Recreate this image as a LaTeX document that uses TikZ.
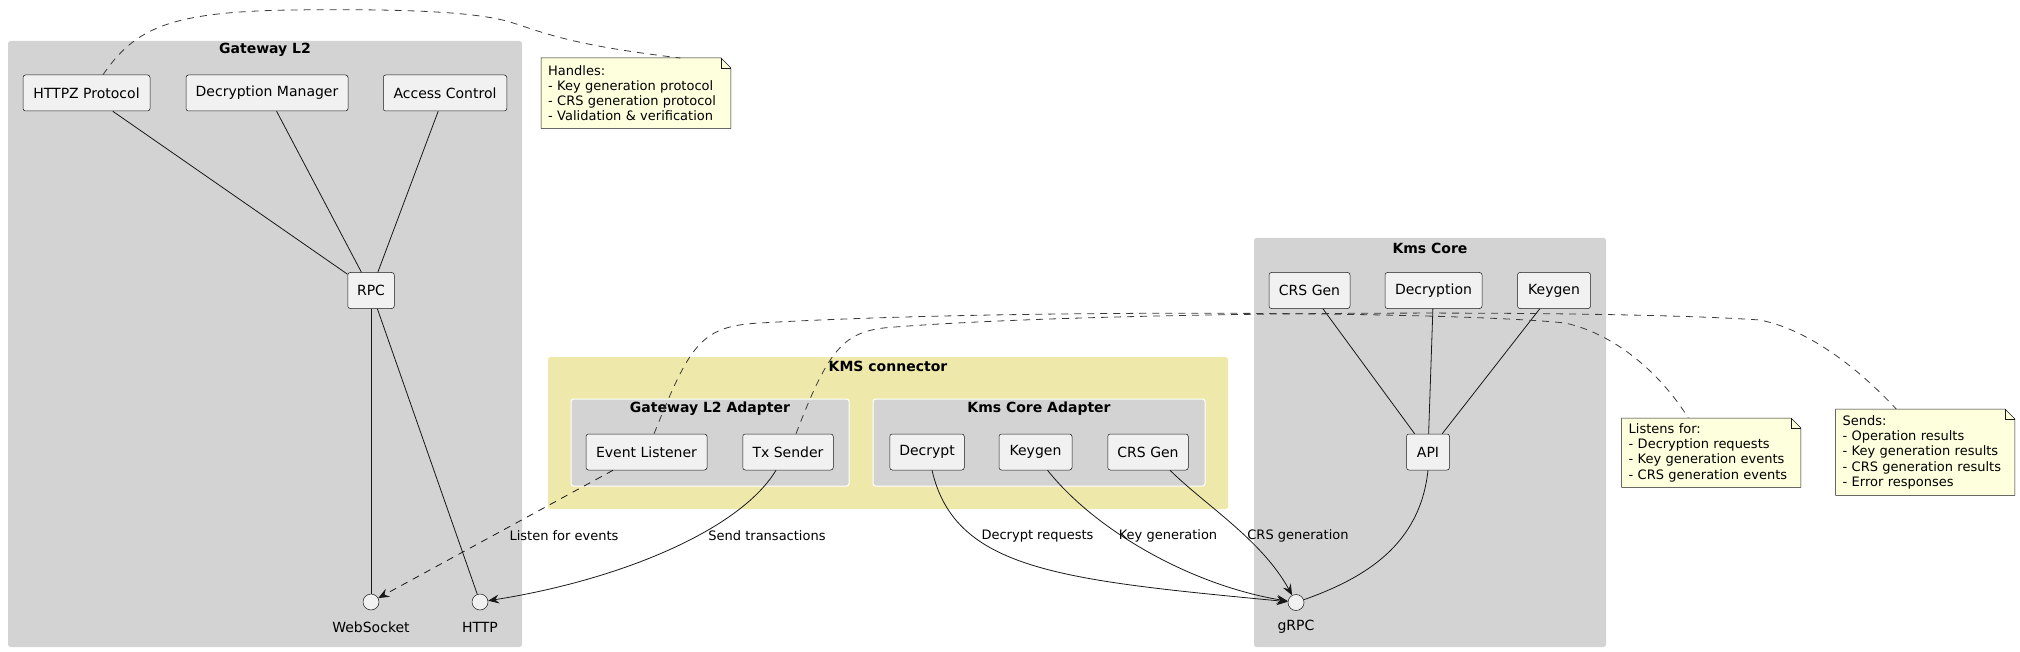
\documentclass[tikz,border=0pt]{standalone}
\usepackage{fontspec}
\setmainfont{DejaVu Sans}
\usetikzlibrary{arrows.meta,backgrounds}
\definecolor{clgray}{HTML}{D3D3D3}
\definecolor{clyellow}{HTML}{EEE8AA}
\definecolor{compf}{HTML}{F1F1F1}
\definecolor{edgec}{HTML}{181818}
\definecolor{notef}{HTML}{FEFFDD}
\newcommand\notefold[1]{%
  \begin{pgfonlayer}{background}
  \filldraw[notebd] (#1.north west) -- ([xshift=-10pt]#1.north east) -- ([yshift=-10pt]#1.north east) -- (#1.south east) -- (#1.south west) -- cycle;
  \draw[notebd, fill=none] ([xshift=-10pt]#1.north east) |- ([yshift=-10pt]#1.north east);
  \end{pgfonlayer}}
\begin{document}
\begin{tikzpicture}[x=1pt,y=-1pt,
  cluster/.style={fill=clgray, rounded corners=2.5pt},
  subcluster/.style={fill=clgray, draw=white, line width=1pt, rounded corners=2.5pt},
  kmsbox/.style={fill=clyellow, rounded corners=2.5pt},
  ctitle/.style={font=\bfseries\fontsize{14}{16}\selectfont, inner sep=0pt},
  comp/.style={draw=edgec, line width=0.5pt, fill=compf, rounded corners=2.5pt, minimum height=36pt, inner sep=0pt, font=\fontsize{14}{16}\selectfont},
  iface/.style={circle, draw=edgec, line width=0.5pt, fill=compf, minimum size=16pt, inner sep=0pt},
  ilabel/.style={font=\fontsize{14}{16}\selectfont, inner sep=0pt},
  elabel/.style={font=\fontsize{13}{15}\selectfont, inner sep=0pt},
  notebd/.style={draw=edgec, line width=0.5pt, fill=notef},
  note/.style={font=\fontsize{13}{15.3}\selectfont, align=left, inner xsep=7pt, inner ysep=0pt, anchor=north west},
  link/.style={draw=edgec, line width=0.8pt},
  arr/.style={link, -{Stealth[length=11pt,width=9pt,inset=4pt]}},
  longdash/.style={dash pattern=on 7pt off 6pt},
  ndash/.style={draw=edgec!85, line width=0.8pt, longdash}
]
\useasboundingbox (0,0) rectangle (2020,652);

% ---------- clusters ----------
\path[cluster] (8,41) rectangle (522,647);
\node[ctitle] (gwtitle) at (265,50) {Gateway L2};
\path[kmsbox] (548,357) rectangle (1228,509);
\node[ctitle] (kctitle) at (888,366) {KMS connector};
\path[subcluster] (571,399) rectangle (849,486);
\node[ctitle] (gatitle) at (710,409) {Gateway L2 Adapter};
\path[subcluster] (873,399) rectangle (1205,486);
\node[ctitle] (katitle) at (1039,409) {Kms Core Adapter};
\path[cluster] (1254,238) rectangle (1606,647);
\node[ctitle] (kmctitle) at (1430,248) {Kms Core};

% ---------- Gateway L2 ----------
\node[comp, minimum width=127pt] (httpz) at (86.5,93) {HTTPZ Protocol};
\node[comp, minimum width=162pt] (decman) at (267,93) {Decryption Manager};
\node[comp, minimum width=123.5pt] (acc) at (445,93) {Access Control};
\node[comp, minimum width=46.5pt] (rpc) at (371,290.5) {RPC};
\node[iface] (ws) at (371,602) {};
\node[ilabel] (wslabel) at (371,627) {WebSocket};
\node[iface] (http) at (480,602) {};
\node[ilabel] (httplabel) at (480,627) {HTTP};

% ---------- KMS connector ----------
\node[comp, minimum width=121pt] (evl) at (646.5,452) {Event Listener};
\node[comp, minimum width=90.5pt] (txs) at (788,452) {Tx Sender};
\node[comp, minimum width=74.5pt] (dec) at (927,452) {Decrypt};
\node[comp, minimum width=73pt] (kg) at (1035.5,452) {Keygen};
\node[comp, minimum width=80.5pt] (crs) at (1148,452) {CRS Gen};

% ---------- Kms Core ----------
\node[comp, minimum width=81pt] (crs2) at (1309.5,290.5) {CRS Gen};
\node[comp, minimum width=97pt] (decr2) at (1433.5,290.5) {Decryption};
\node[comp, minimum width=73pt] (kg2) at (1554,290.5) {Keygen};
\node[comp, minimum width=43pt] (api) at (1428,452) {API};
\node[iface] (grpc) at (1296,602.5) {};
\node[ilabel] (grpclabel) at (1296,627) {gRPC};

% ---------- notes ----------
\node[note, text width=175.5pt, minimum height=70pt] (n1) at (541,58)
  {Handles:\\- Key generation protocol\\- CRS generation protocol\\- Validation \& verification};
\notefold{n1}
\node[note, text width=165pt, minimum height=69pt] (n2) at (1621.5,418)
  {Listens for:\\- Decryption requests\\- Key generation events\\- CRS generation events};
\notefold{n2}
\node[note, text width=165pt, minimum height=86pt] (n3) at (1835.5,409)
  {Sends:\\- Operation results\\- Key generation results\\- CRS generation results\\- Error responses};
\notefold{n3}

% ---------- plain links ----------
\draw[link] (httpz) -- (rpc);
\draw[link] (decman) -- (rpc);
\draw[link] (acc) -- (rpc);
\draw[link] (rpc) -- (ws);
\draw[link] (rpc) -- (http);
\draw[link] (crs2) -- (api);
\draw[link] (decr2) -- (api);
\draw[link] (kg2) -- (api);
\draw[link] (api.south) .. controls (1420,545) and (1365,578) .. (grpc);

% ---------- arrows ----------
\draw[arr, longdash] (evl) -- (ws);
\draw[arr] ([xshift=-12pt]txs.south) .. controls (740,530) and (620,580) .. (http);
\draw[arr] ([xshift=5pt]dec.south) .. controls (955,570) and (1060,580) .. (grpc);
\draw[arr] ([xshift=12pt]kg.south) .. controls (1095,530) and (1190,585) .. (grpc);
\draw[arr] ([xshift=22pt]crs.south) .. controls (1205,505) and (1262,540) .. (grpc);

\node[elabel] (l1) at (564,536) {Listen for events};
\node[elabel] (l2) at (767,536) {Send transactions};
\node[elabel] (l3) at (1037.5,536) {Decrypt requests};
\node[elabel] (l4) at (1168,536) {Key generation};
\node[elabel] (l5) at (1298,536) {CRS generation};

% ---------- note links ----------
\draw[ndash] ([xshift=16.5pt]httpz.north) .. controls (135,28) and (170,12) .. (290,10)
   .. controls (380,9) and (470,10) .. (510,22) .. controls (545,33) and (570,45) .. ([xshift=44.5pt]n1.north);
\draw[ndash] ([xshift=7.5pt]evl.north) .. controls (690,345) and (700,326) .. (760,323)
   .. controls (1000,309) and (1450,311) .. (1565,323) .. controls (1620,335) and (1665,380) .. ([xshift=-23pt]n2.north);
\draw[ndash] ([xshift=8pt]txs.north) .. controls (830,345) and (845,330) .. (895,327)
   .. controls (1100,311) and (1600,309) .. (1760,320) .. controls (1810,330) and (1860,370) .. ([xshift=-29pt]n3.north);
\end{tikzpicture}
\end{document}
